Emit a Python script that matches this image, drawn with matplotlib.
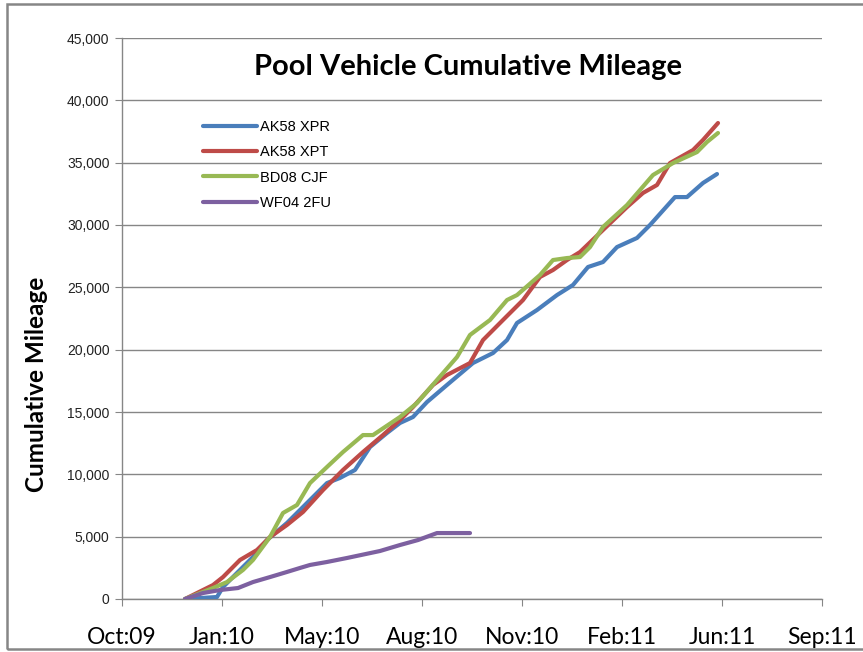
import matplotlib
matplotlib.use("Agg")
import matplotlib.pyplot as plt
from matplotlib.patches import Rectangle
from matplotlib.ticker import FuncFormatter

# x values: days since axis start (ticks every 100 days)
tick_days = [0, 100, 200, 300, 400, 500, 600, 700]
tick_labels = ["Oct:09", "Jan:10", "May:10", "Aug:10", "Nov:10", "Feb:11", "Jun:11", "Sep:11"]

xpr_days = [63, 95, 101, 118, 131, 145, 165, 188, 205, 218, 233, 248, 265, 278, 291, 305, 325,
            351, 371, 385, 395, 415, 435, 451, 466, 481, 495, 515, 528, 553, 565, 581, 595]
xpr_miles = [0, 160, 960, 2330, 3370, 4730, 6100, 7940, 9300, 9710, 10350, 12190, 13320, 14120,
             14600, 15800, 17170, 18930, 19730, 20770, 22140, 23180, 24380, 25190, 26630, 27030,
             28230, 28960, 30000, 32240, 32240, 33370, 34090]

xpt_days = [63, 91, 101, 118, 135, 148, 165, 181, 201, 221, 241, 261, 278, 291, 311, 325, 348,
            361, 381, 401, 418, 431, 445, 458, 481, 505, 521, 535, 548, 571, 581, 596]
xpt_miles = [0, 1120, 1760, 3130, 3930, 4970, 5940, 6980, 8740, 10350, 11790, 13150, 14360,
             15400, 17170, 17970, 18930, 20770, 22380, 23980, 25830, 26390, 27190, 27830, 29600,
             31440, 32570, 33210, 34970, 36010, 36820, 38180]

cjf_days = [63, 91, 105, 121, 131, 148, 161, 175, 188, 205, 221, 241, 251, 278, 295, 315, 335,
            348, 368, 385, 395, 418, 431, 445, 458, 468, 481, 505, 531, 551, 575, 585, 596]
cjf_miles = [0, 880, 1360, 2330, 3130, 4970, 6900, 7540, 9300, 10590, 11790, 13150, 13150, 14600,
             15720, 17570, 19410, 21180, 22380, 23980, 24380, 25990, 27190, 27350, 27430, 28230,
             29840, 31600, 34010, 34970, 35850, 36660, 37380]

fu_days = [63, 81, 98, 116, 131, 148, 165, 178, 188, 205, 225, 258, 278, 296, 315, 333, 348]
fu_miles = [0, 480, 720, 880, 1360, 1760, 2170, 2490, 2730, 2970, 3290, 3850, 4330, 4730, 5290,
            5290, 5290]

series = [
    ("AK58 XPR", xpr_days, xpr_miles, "#4A7EBB"),
    ("AK58 XPT", xpt_days, xpt_miles, "#BE4B48"),
    ("BD08 CJF", cjf_days, cjf_miles, "#98B954"),
    ("WF04 2FU", fu_days, fu_miles, "#7D60A0"),
]

W, H = 863, 652
fig = plt.figure(figsize=(W / 100, H / 100), dpi=100)
fig.patch.set_facecolor("white")

# chart area border
fig.add_artist(Rectangle((7 / W, 1 - 649 / H), 1.0, (649 - 4) / H, transform=fig.transFigure,
                         fill=False, edgecolor="#868686", linewidth=1.8, clip_on=False))

ax = fig.add_axes([122 / W, 1 - 599 / H, 700 / W, 561 / H])
ax.set_xlim(0, 700)
ax.set_ylim(0, 45000)

for name, xs, ys, col in series:
    ax.plot(xs, ys, color=col, linewidth=3.0, solid_capstyle="round", solid_joinstyle="round",
            label=name, zorder=3)

ax.set_yticks(range(0, 45001, 5000))
ax.yaxis.set_major_formatter(FuncFormatter(lambda v, p: f"{int(v):,}"))
ax.set_xticks(tick_days)
ax.set_xticklabels(tick_labels)
ax.grid(axis="y", color="#868686", linewidth=1.0, zorder=0)
ax.set_axisbelow(True)

for s in ["top", "right"]:
    ax.spines[s].set_visible(False)
for s in ["left", "bottom"]:
    ax.spines[s].set_color("#868686")
    ax.spines[s].set_linewidth(1.0)

ax.tick_params(axis="y", direction="out", length=5, color="#868686", labelsize=10,
               labelcolor="#222222", pad=4)
ax.tick_params(axis="x", direction="out", length=5, color="#868686", pad=15)
for lab in ax.get_xticklabels():
    lab.set_fontfamily("Lato")
    lab.set_fontsize(16.5)
for lab in ax.get_yticklabels():
    lab.set_fontfamily("Liberation Sans")

fig.text(468 / W, 1 - 67 / H, "Pool Vehicle Cumulative Mileage", ha="center", va="center",
         fontfamily="Lato", fontweight="bold", fontsize=21)
fig.text(36 / W, 1 - 384 / H, "Cumulative Mileage", ha="center", va="center", rotation=90,
         fontfamily="Lato", fontweight="bold", fontsize=17.5)

leg = ax.legend(loc="upper left", bbox_to_anchor=(75 / 700, 1 - 76 / 561), frameon=False,
                prop={"family": "Liberation Sans", "size": 10.5}, handlelength=3.7,
                handletextpad=0.25, labelspacing=0.78, borderaxespad=0)

fig.savefig("out.png", dpi=100)
